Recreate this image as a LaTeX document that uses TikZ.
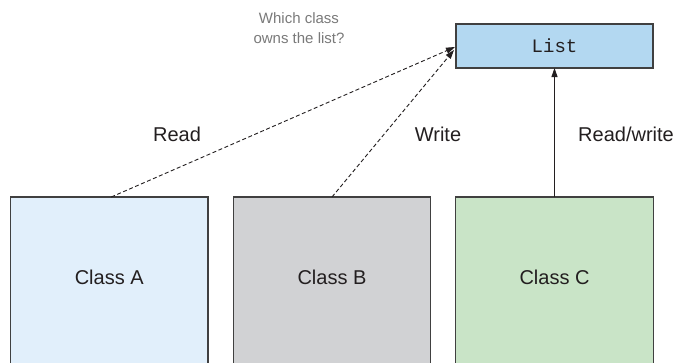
\documentclass[tikz,border=0pt]{standalone}
\usepackage{fontspec}
\setmainfont{Liberation Sans}
\newfontfamily\monofam{Liberation Mono}
\usetikzlibrary{arrows.meta,calc}
\definecolor{listblue}{HTML}{B3D8F1}
\definecolor{ablue}{HTML}{E1EFFB}
\definecolor{bgray}{HTML}{D1D2D4}
\definecolor{cgreen}{HTML}{C9E4C7}
\definecolor{edge}{HTML}{404040}
\definecolor{txt}{HTML}{231F20}
\definecolor{note}{HTML}{7A7A7A}
\tikzset{
  classbox/.style={draw=edge, line width=1.3pt, rectangle, inner sep=0pt, outer sep=0pt,
    minimum width=197.5pt, minimum height=167pt, text=txt, font=\fontsize{20}{24}\selectfont},
  listbox/.style={draw=edge, line width=1.3pt, fill=listblue, rectangle, inner sep=0pt, outer sep=0pt,
    minimum width=197pt, minimum height=44pt, text=txt, font=\monofam\fontsize{19}{22}\selectfont},
  lbl/.style={text=txt, font=\fontsize{20}{24}\selectfont, inner sep=0pt},
  notelbl/.style={text=note, font=\fontsize{15}{20}\selectfont, align=center, inner sep=0pt},
  conn/.style={draw=txt, line width=0.9pt, -{Triangle[length=9pt,width=6pt]}},
  dconn/.style={conn, dash pattern=on 4pt off 2.5pt}
}
\begin{document}
\begin{tikzpicture}[x=1pt,y=-1pt]
\useasboundingbox (0,0) rectangle (682,362);
\fill[white] (0,0) rectangle (682,362);
\node[listbox] (L) at (554.5,46) {List};
\node[classbox, fill=ablue] (A) at (109.25,280.5) {};
\node[classbox, fill=bgray] (B) at (332,280.5) {};
\node[classbox, fill=cgreen] (C) at (554.5,280.5) {};
\node[lbl] (ta) at (109.25,277) {Class A};
\node[lbl] (tb) at (332,277) {Class B};
\node[lbl] (tc) at (554.5,277) {Class C};
\node[notelbl] (q) at (299,28) {Which class\\owns the list?};
\node[lbl] (r) at (177,134) {Read};
\node[lbl] (w) at (438,134) {Write};
\node[lbl,anchor=west] (rw) at (578,134) {Read/write};
\draw[dconn] ($(A.north)+(2,0)$) -- ($(L.west)+(-1,1)$);
\draw[dconn] (B.north) -- ($(L.west)+(-2,4)$);
\draw[conn] (C.north) -- (L.south);
\end{tikzpicture}
\end{document}
